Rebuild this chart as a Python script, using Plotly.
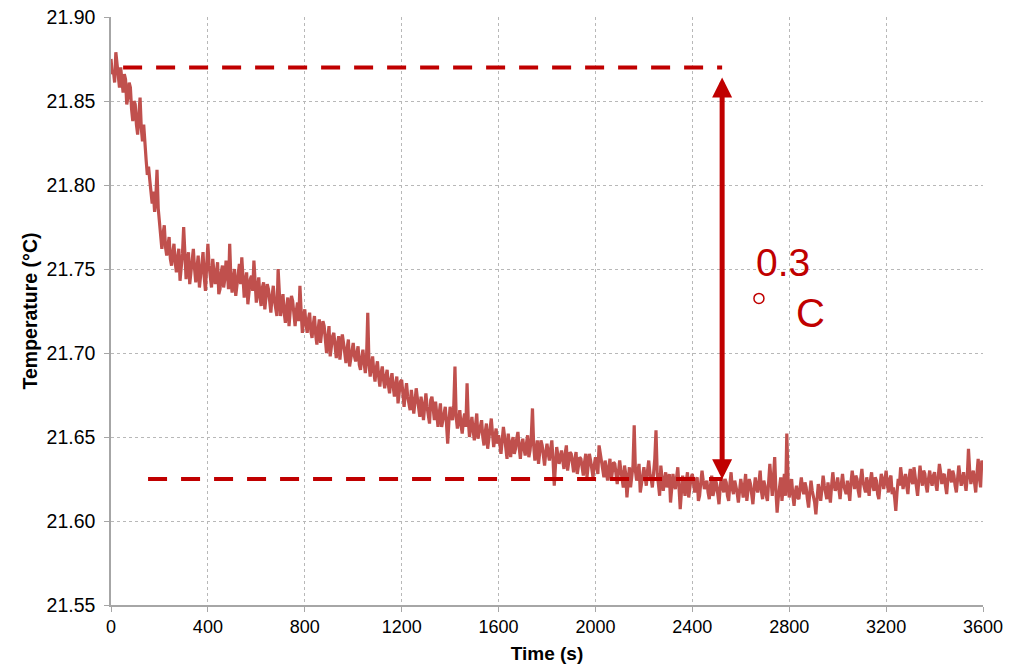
import plotly.graph_objects as go

# ---- data ----
# readings on the 10 s grid (0, 10, ..., 3600 s)
temperature_c = [
    # 0 - 190 s
    21.875, 21.868, 21.879, 21.863, 21.870, 21.855, 21.863, 21.852, 21.858, 21.838,
    21.848, 21.830, 21.852, 21.826, 21.822, 21.806, 21.803, 21.789, 21.784, 21.809,
    # 200 - 390 s
    21.776, 21.762, 21.776, 21.758, 21.769, 21.752, 21.765, 21.748, 21.762, 21.750,
    21.775, 21.744, 21.760, 21.748, 21.762, 21.742, 21.758, 21.746, 21.760, 21.737,
    # 400 - 590 s
    21.765, 21.745, 21.756, 21.741, 21.754, 21.738, 21.752, 21.744, 21.749, 21.765,
    21.736, 21.750, 21.740, 21.753, 21.757, 21.733, 21.748, 21.735, 21.746, 21.755,
    # 600 - 790 s
    21.730, 21.745, 21.728, 21.742, 21.733, 21.738, 21.724, 21.740, 21.727, 21.750,
    21.722, 21.735, 21.718, 21.733, 21.724, 21.731, 21.716, 21.730, 21.740, 21.712,
    # 800 - 990 s
    21.726, 21.712, 21.724, 21.709, 21.722, 21.705, 21.720, 21.712, 21.716, 21.700,
    21.716, 21.704, 21.712, 21.697, 21.710, 21.703, 21.706, 21.694, 21.708, 21.697,
    # 1000 - 1190 s
    21.706, 21.695, 21.704, 21.690, 21.702, 21.688, 21.724, 21.686, 21.698, 21.683,
    21.695, 21.680, 21.692, 21.679, 21.690, 21.676, 21.688, 21.674, 21.686, 21.678,
    # 1200 - 1390 s
    21.684, 21.668, 21.682, 21.671, 21.678, 21.664, 21.679, 21.668, 21.674, 21.660,
    21.676, 21.663, 21.672, 21.667, 21.671, 21.656, 21.670, 21.660, 21.668, 21.646,
    # 1400 - 1590 s
    21.668, 21.660, 21.692, 21.655, 21.666, 21.652, 21.664, 21.682, 21.650, 21.662,
    21.648, 21.664, 21.653, 21.660, 21.645, 21.658, 21.650, 21.661, 21.644, 21.655,
    # 1600 - 1790 s
    21.651, 21.640, 21.656, 21.644, 21.652, 21.638, 21.650, 21.643, 21.653, 21.637,
    21.649, 21.639, 21.651, 21.642, 21.667, 21.636, 21.648, 21.640, 21.645, 21.633,
    # 1800 - 1990 s
    21.646, 21.636, 21.648, 21.621, 21.644, 21.634, 21.642, 21.631, 21.645, 21.635,
    21.640, 21.629, 21.641, 21.633, 21.637, 21.627, 21.640, 21.632, 21.636, 21.626,
    # 2000 - 2190 s
    21.638, 21.628, 21.640, 21.630, 21.636, 21.624, 21.637, 21.629, 21.634, 21.622,
    21.636, 21.626, 21.633, 21.614, 21.632, 21.625, 21.657, 21.624, 21.634, 21.622,
    # 2200 - 2390 s
    21.632, 21.621, 21.636, 21.625, 21.630, 21.654, 21.622, 21.633, 21.618, 21.629,
    21.624, 21.611, 21.628, 21.619, 21.632, 21.607, 21.627, 21.615, 21.629, 21.621,
    # 2400 - 2590 s
    21.628, 21.617, 21.626, 21.615, 21.630, 21.619, 21.624, 21.613, 21.627, 21.618,
    21.622, 21.610, 21.626, 21.617, 21.623, 21.612, 21.629, 21.616, 21.621, 21.611,
    # 2600 - 2790 s
    21.625, 21.614, 21.628, 21.618, 21.622, 21.610, 21.626, 21.617, 21.630, 21.613,
    21.621, 21.612, 21.634, 21.615, 21.638, 21.605, 21.620, 21.612, 21.628, 21.652,
    # 2800 - 2990 s
    21.614, 21.625, 21.609, 21.621, 21.613, 21.626, 21.616, 21.620, 21.608, 21.624,
    21.615, 21.604, 21.622, 21.612, 21.627, 21.617, 21.623, 21.611, 21.629, 21.618,
    # 3000 - 3190 s
    21.626, 21.613, 21.628, 21.618, 21.624, 21.612, 21.630, 21.619, 21.625, 21.614,
    21.631, 21.620, 21.626, 21.615, 21.629, 21.618, 21.624, 21.613, 21.628, 21.619,
    # 3200 - 3390 s
    21.630, 21.617, 21.627, 21.620, 21.606, 21.625, 21.632, 21.619, 21.628, 21.616,
    21.631, 21.622, 21.627, 21.615, 21.633, 21.621, 21.628, 21.617, 21.630, 21.621,
    # 3400 - 3600 s
    21.629, 21.618, 21.634, 21.622, 21.628, 21.616, 21.631, 21.623, 21.627, 21.617,
    21.633, 21.621, 21.629, 21.618, 21.643, 21.622, 21.630, 21.617, 21.637, 21.620,
    21.632,
]

# readings between the grid points (5, 15, ..., 3595 s)
temperature_mid_c = [
    21.866, 21.861, 21.871, 21.858, 21.861, 21.866, 21.848, 21.861, 21.845, 21.850,
    21.836, 21.842, 21.834, 21.836, 21.815, 21.811, 21.795, 21.796, 21.792, 21.786,
    21.768, 21.771, 21.763, 21.764, 21.756, 21.760, 21.754, 21.757, 21.743, 21.759,
    21.752, 21.755, 21.741, 21.756, 21.750, 21.751, 21.739, 21.755, 21.745, 21.752,
    21.752, 21.739, 21.750, 21.747, 21.735, 21.748, 21.739, 21.755, 21.738, 21.744,
    21.745, 21.734, 21.748, 21.741, 21.745, 21.743, 21.729, 21.744, 21.737, 21.741,
    21.738, 21.733, 21.739, 21.726, 21.741, 21.729, 21.734, 21.731, 21.722, 21.732,
    21.729, 21.724, 21.727, 21.716, 21.734, 21.722, 21.725, 21.719, 21.725, 21.721,
    21.717, 21.720, 21.713, 21.717, 21.711, 21.714, 21.706, 21.719, 21.707, 21.709,
    21.698, 21.710, 21.703, 21.705, 21.696, 21.711, 21.699, 21.703, 21.692, 21.704,
    21.698, 21.700, 21.693, 21.697, 21.694, 21.697, 21.694, 21.693, 21.689, 21.691,
    21.686, 21.688, 21.684, 21.686, 21.681, 21.684, 21.680, 21.681, 21.670, 21.683,
    21.675, 21.676, 21.674, 21.666, 21.672, 21.671, 21.673, 21.662, 21.669, 21.670,
    21.668, 21.658, 21.674, 21.660, 21.665, 21.664, 21.656, 21.665, 21.658, 21.659,
    21.663, 21.668, 21.662, 21.660, 21.657, 21.660, 21.656, 21.660, 21.656, 21.654,
    21.657, 21.649, 21.658, 21.650, 21.653, 21.643, 21.657, 21.652, 21.650, 21.646,
    21.646, 21.648, 21.650, 21.637, 21.645, 21.647, 21.640, 21.649, 21.644, 21.645,
    21.643, 21.646, 21.638, 21.650, 21.645, 21.642, 21.634, 21.648, 21.638, 21.641,
    21.640, 21.643, 21.636, 21.633, 21.639, 21.638, 21.636, 21.640, 21.630, 21.641,
    21.634, 21.637, 21.628, 21.638, 21.631, 21.635, 21.626, 21.640, 21.630, 21.633,
    21.633, 21.645, 21.634, 21.626, 21.630, 21.632, 21.624, 21.635, 21.627, 21.629,
    21.630, 21.620, 21.628, 21.625, 21.620, 21.633, 21.630, 21.630, 21.617, 21.628,
    21.626, 21.630, 21.628, 21.620, 21.637, 21.628, 21.615, 21.626, 21.624, 21.620,
    21.628, 21.619, 21.622, 21.626, 21.620, 21.617, 21.620, 21.624, 21.614, 21.626,
    21.621, 21.624, 21.612, 21.623, 21.624, 21.622, 21.617, 21.621, 21.615, 21.625,
    21.616, 21.620, 21.620, 21.625, 21.615, 21.622, 21.619, 21.624, 21.617, 21.619,
    21.620, 21.621, 21.612, 21.625, 21.616, 21.619, 21.620, 21.623, 21.618, 21.624,
    21.615, 21.623, 21.624, 21.626, 21.618, 21.614, 21.626, 21.619, 21.615, 21.626,
    21.620, 21.615, 21.617, 21.614, 21.620, 21.619, 21.623, 21.613, 21.617, 21.618,
    21.611, 21.614, 21.618, 21.619, 21.621, 21.613, 21.616, 21.621, 21.622, 21.620,
    21.619, 21.622, 21.621, 21.616, 21.619, 21.623, 21.624, 21.627, 21.618, 21.625,
    21.623, 21.617, 21.620, 21.624, 21.621, 21.626, 21.616, 21.621, 21.625, 21.624,
    21.622, 21.625, 21.616, 21.614, 21.617, 21.621, 21.626, 21.624, 21.621, 21.626,
    21.624, 21.632, 21.620, 21.624, 21.626, 21.630, 21.621, 21.625, 21.624, 21.627,
    21.622, 21.626, 21.629, 21.627, 21.621, 21.625, 21.626, 21.630, 21.621, 21.625,
    21.627, 21.624, 21.623, 21.626, 21.630, 21.627, 21.623, 21.628, 21.626, 21.636,
]

time_s = []
temp_series = []
for i, v in enumerate(temperature_c):
    time_s.append(i * 10)
    temp_series.append(v)
    if i < len(temperature_mid_c):
        time_s.append(i * 10 + 5)
        temp_series.append(temperature_mid_c[i])

x_ticks = [0, 400, 800, 1200, 1600, 2000, 2400, 2800, 3200, 3600]
y_ticks = [21.55, 21.60, 21.65, 21.70, 21.75, 21.80, 21.85, 21.90]

# reference levels and arrow
upper_level = 21.870
upper_start = 50
lower_level = 21.625
lower_start = 153
ref_end = 2523
arrow_top = 21.864
arrow_bottom = 21.624
delta_text = "0.3"
deg_unit = "C"

FONT = "Liberation Sans, Arial, sans-serif"
RED = "#C00000"
LINE = "#C0504D"
GRID = "#b8b8b8"
AXIS = "#a6a6a6"

fig = go.Figure()
fig.add_trace(go.Scatter(
    x=time_s, y=temp_series, mode="lines",
    line=dict(color=LINE, width=3.2), showlegend=False, cliponaxis=False,
))

dash = "19px,14px"
fig.add_shape(type="line", xref="x", yref="y", x0=upper_start, x1=ref_end,
              y0=upper_level, y1=upper_level,
              line=dict(color=RED, width=4, dash=dash))
fig.add_shape(type="line", xref="x", yref="y", x0=lower_start, x1=ref_end,
              y0=lower_level, y1=lower_level,
              line=dict(color=RED, width=4, dash=dash))

fig.add_annotation(
    x=ref_end, y=arrow_top, ax=ref_end, ay=arrow_bottom,
    xref="x", yref="y", axref="x", ayref="y",
    text="", showarrow=True, arrowside="end+start",
    arrowhead=2, arrowsize=0.8, startarrowhead=2, startarrowsize=0.8,
    arrowwidth=5, arrowcolor=RED,
)

fig.add_annotation(x=2775, y=21.754, xref="x", yref="y", text=delta_text,
                   showarrow=False, font=dict(family=FONT, size=39, color=RED))
fig.add_annotation(x=2886, y=21.724, xref="x", yref="y", text=deg_unit,
                   showarrow=False, font=dict(family=FONT, size=40, color=RED))
fig.add_shape(type="circle", xref="x", yref="y", xsizemode="pixel", ysizemode="pixel",
              xanchor=2675, yanchor=21.7325, x0=-5, x1=5, y0=-5, y1=5,
              line=dict(color=RED, width=1.5), fillcolor="rgba(0,0,0,0)")

axis_common = dict(
    showline=True, linecolor=AXIS, linewidth=1.5,
    ticks="outside", ticklen=5, tickcolor=AXIS, tickwidth=1,
    showgrid=True, gridcolor=GRID, gridwidth=1, griddash="3px,3px",
    zeroline=False, ticklabeloverflow="allow",
)

fig.update_xaxes(
    range=[0, 3600], tickvals=x_ticks, ticktext=[str(v) for v in x_ticks],
    tickfont=dict(family=FONT, size=18, color="#000000"),
    title=dict(text="<b>Time (s)</b>", font=dict(family=FONT, size=19, color="#000000"),
               standoff=10),
    **axis_common,
)
fig.update_yaxes(
    range=[21.55, 21.90], tickvals=y_ticks, ticktext=[f"{v:.2f}" for v in y_ticks],
    tickfont=dict(family=FONT, size=19.5, color="#000000"),
    ticklabelstandoff=5,
    title=dict(text="<b>Temperature (°C)</b>", font=dict(family=FONT, size=19.5, color="#000000"),
               standoff=4),
    **axis_common,
)

fig.update_layout(
    width=1026, height=665,
    margin=dict(l=111, r=43, t=17, b=60, autoexpand=False),
    plot_bgcolor="white", paper_bgcolor="white",
    font=dict(family=FONT, color="#000000"),
    hovermode=False,
)

# remove the page's default body margin so the figure fills the window exactly
fig.write_html("out.html", config={"displayModeBar": False},
               post_script="document.body.style.margin='0';")
